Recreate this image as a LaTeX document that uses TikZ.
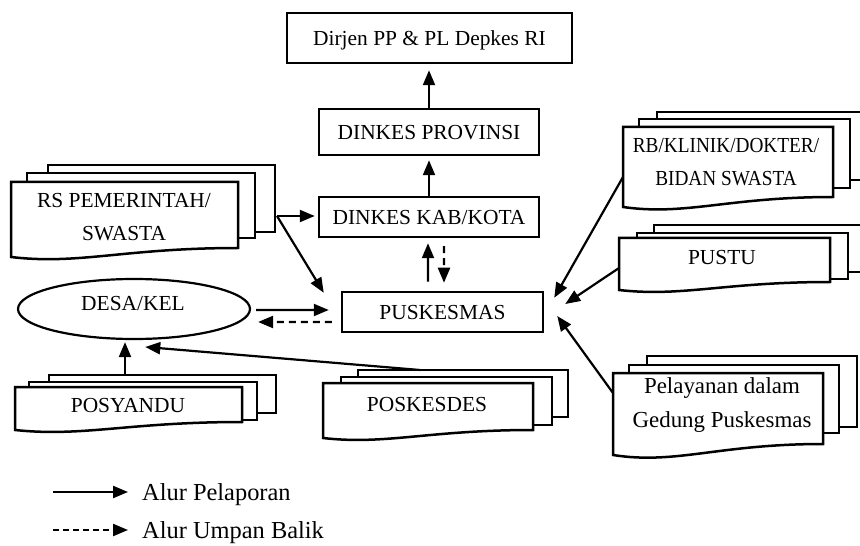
\documentclass[tikz,border=0pt]{standalone}
\usepackage{fontspec}
\setmainfont{Liberation Serif}
\newfontfamily\narrowserif[FakeStretch=0.9]{Liberation Serif}
\usetikzlibrary{arrows.meta,shapes.geometric,calc}
% x1 y1 x2 y2 d : front sheet of a multi-document stack (wavy bottom)
\newcommand{\frontsheet}[5]{%
  \draw[sheet] (#1,#2) -- (#3,#2) -- (#3,{#4-#5})
    .. controls ({#1+0.5*(#3-#1)},{#4-#5}) and ({#1+0.3*(#3-#1)},{#4+0.9*#5}) .. (#1,#4) -- cycle;}
\newcommand{\backsheet}[4]{\draw[sheet] (#1,#2) rectangle (#3,#4);}
\begin{document}
\begin{tikzpicture}[x=1bp,y=-1bp,
  sheet/.style={draw=black,fill=white,line width=2.5bp,line join=miter},
  box/.style={draw=black,fill=white,line width=2.5bp,inner sep=0pt,text height=14.5bp,text depth=0bp,font=\fontsize{21.5}{25}\selectfont},
  lbl/.style={inner sep=0pt,text height=14.5bp,text depth=0bp,font=\fontsize{21.5}{25}\selectfont},
  mlbl/.style={inner sep=0pt,align=center,font=\fontsize{21.5}{33}\selectfont},
  leg/.style={inner sep=0pt,text height=16bp,text depth=0bp,anchor=west,font=\fontsize{24.5}{28}\selectfont},
  arr/.style={line width=2.2bp,-{Triangle[length=15bp,width=12bp]}},
  darr/.style={arr,dash pattern=on 7bp off 5bp},
]
\clip (0,0) rectangle (860,546);
\fill[white] (0,0) rectangle (860,546);

% central column
\node[box,minimum width=285bp,minimum height=50bp] (dirjen) at (429.5,38) {Dirjen PP \& PL Depkes RI};
\node[box,minimum width=220bp,minimum height=46bp] (prov) at (429,132) {DINKES PROVINSI};
\node[box,minimum width=220bp,minimum height=40bp] (kab) at (429,217) {DINKES KAB/KOTA};
\node[box,minimum width=201bp,minimum height=40bp] (pusk) at (442.5,312) {PUSKESMAS};
\node[draw,ellipse,line width=2.2bp,minimum width=232bp,minimum height=60bp,inner sep=0pt] (desa) at (134,309) {};
\node[lbl] (desatxt) at (133,303) {DESA/KEL};

% RS PEMERINTAH / SWASTA
\backsheet{48}{165}{275}{232}
\backsheet{27}{173}{255}{238}
\frontsheet{11}{182}{238}{257}{9}
\node[mlbl] (rstxt) at (124,217) {RS PEMERINTAH/\\SWASTA};

% RB / KLINIK
\backsheet{657}{112}{900}{180}
\backsheet{639}{119}{850}{188}
\frontsheet{623}{127}{833}{207}{10}
\node[mlbl,font=\narrowserif\fontsize{21.5}{33}\selectfont] (rbtxt) at (726,162) {RB/KLINIK/DOKTER/\\BIDAN SWASTA};

% PUSTU
\backsheet{654}{225}{900}{272}
\backsheet{637}{233}{848}{279}
\frontsheet{619}{238}{830}{290}{8}
\node[lbl] (pustutxt) at (722,257) {PUSTU};

% Pelayanan dalam Gedung
\backsheet{647}{356}{857}{427}
\backsheet{629}{365}{839}{433}
\frontsheet{613}{373}{823}{455}{11}
\node[mlbl,font=\fontsize{23}{35}\selectfont] (peltxt) at (722,405) {Pelayanan dalam\\Gedung Puskesmas};

% POSYANDU
\backsheet{49}{375}{276}{413}
\backsheet{29}{382}{257}{420}
\frontsheet{15}{387}{242}{430}{8}
\node[lbl] (posytxt) at (128,405) {POSYANDU};

% POSKESDES
\backsheet{358}{370}{568}{417}
\backsheet{341}{377}{552}{425}
\frontsheet{323}{383}{533}{438}{8}
\node[lbl] (posktxt) at (427,404) {POSKESDES};

% connector end points on the stacks
\coordinate (rsR) at (277,216);
\coordinate (rbL) at (623,177);
\coordinate (pustuL) at (619,268);
\coordinate (pelL) at (613,393);
\coordinate (posyT) at (125,375);
\coordinate (poskT) at (420,370);

% connectors
\draw[arr,shorten >=6bp] (prov.north) -- (prov.north |- dirjen.south);
\draw[arr,shorten >=4bp] (kab.north) -- (prov.south);
\draw[arr,shorten >=3bp] (rsR) -- (kab.west |- rsR);
\draw[arr] (rsR) -- ([xshift=-17bp,yshift=-2bp]pusk.north west);
\draw[arr] ([xshift=-14.5bp,yshift=9bp]pusk.north) -- ([xshift=-1bp,yshift=-5bp]kab.south);
\draw[darr] ([xshift=15bp,yshift=-8bp]kab.south) -- ([xshift=1.5bp,yshift=8bp]pusk.north);
\draw[arr] ([xshift=5bp,yshift=-1bp]desa.east) -- ([xshift=-12bp,yshift=2bp]pusk.west);
\draw[darr] ([xshift=-9bp,yshift=-10bp]pusk.west) -- ([xshift=7bp,yshift=-13bp]desa.east);
\draw[arr] (posyT) -- ([yshift=-2bp]posyT |- desa.south);
\draw[arr] (poskT) -- ([yshift=-7bp]desa.-70);
\draw[arr] (rbL) -- ([xshift=10bp,yshift=-7bp]pusk.north east);
\draw[arr] (pustuL) -- ([xshift=21bp,yshift=8bp]pusk.east);
\draw[arr] (pelL) -- ([xshift=13bp,yshift=-4bp]pusk.east);

% legend
\coordinate (l1a) at (53,492);
\coordinate (l1b) at (128,492);
\coordinate (l2a) at (53,530);
\coordinate (l2b) at (128,530);
\draw[arr] (l1a) -- (l1b);
\draw[darr,dash pattern=on 6bp off 4bp] (l2a) -- (l2b);
\node[leg] (l1t) at (142,492) {Alur Pelaporan};
\node[leg] (l2t) at (142,530) {Alur Umpan Balik};
\end{tikzpicture}
\end{document}
